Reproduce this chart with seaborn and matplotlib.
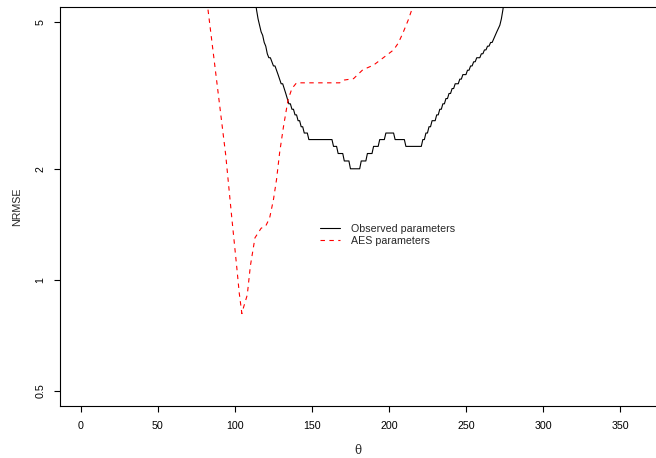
import numpy as np
import pandas as pd
import matplotlib
matplotlib.use('Agg')
import matplotlib.pyplot as plt
import seaborn as sns
from matplotlib.ticker import FixedLocator, NullLocator

# Observed parameters, one value per degree from 113 to 275
obs_theta = list(range(113, 276))
obs_nrmse = [5.8, 5.4, 5.1, 4.9, 4.7, 4.6, 4.4, 4.3, 4.1, 4.0,   # 113-122
             4.0, 3.9, 3.8, 3.8, 3.7, 3.6, 3.5, 3.4, 3.4, 3.3,   # 123-132
             3.2, 3.1, 3.0, 3.0, 2.9, 2.9, 2.8, 2.8, 2.7, 2.7,   # 133-142
             2.6, 2.6, 2.5, 2.5, 2.5, 2.4, 2.4, 2.4, 2.4, 2.4,   # 143-152
             2.4, 2.4, 2.4, 2.4, 2.4, 2.4, 2.4, 2.4, 2.4, 2.4,   # 153-162
             2.4, 2.3, 2.3, 2.3, 2.2, 2.2, 2.2, 2.2, 2.1, 2.1,   # 163-172
             2.1, 2.1, 2.0, 2.0, 2.0, 2.0, 2.0, 2.0, 2.0, 2.1,   # 173-182
             2.1, 2.1, 2.1, 2.2, 2.2, 2.2, 2.2, 2.3, 2.3, 2.3,   # 183-192
             2.3, 2.4, 2.4, 2.4, 2.4, 2.5, 2.5, 2.5, 2.5, 2.5,   # 193-202
             2.5, 2.4, 2.4, 2.4, 2.4, 2.4, 2.4, 2.4, 2.3, 2.3,   # 203-212
             2.3, 2.3, 2.3, 2.3, 2.3, 2.3, 2.3, 2.3, 2.3, 2.4,   # 213-222
             2.4, 2.5, 2.5, 2.6, 2.6, 2.7, 2.7, 2.7, 2.8, 2.8,   # 223-232
             2.9, 2.9, 3.0, 3.0, 3.1, 3.1, 3.2, 3.2, 3.3, 3.3,   # 233-242
             3.4, 3.4, 3.4, 3.5, 3.5, 3.6, 3.6, 3.6, 3.7, 3.7,   # 243-252
             3.8, 3.8, 3.9, 3.9, 4.0, 4.0, 4.0, 4.1, 4.1, 4.2,   # 253-262
             4.2, 4.3, 4.3, 4.4, 4.4, 4.5, 4.6, 4.7, 4.8, 4.9,   # 263-272
             5.1, 5.4, 5.8]                                      # 273-275

# AES parameters
aes_theta = [82.5, 94, 97.9, 101.1, 102.8, 104.5, 105.5, 108, 110, 113, 117, 120,
             122.5, 125, 127, 129, 131.5, 134.5, 137, 140, 168, 171, 177, 183, 190,
             196, 203, 206, 209, 212.5, 215.5]
aes_nrmse = [5.4, 2.18, 1.48, 1.09, 0.92, 0.81, 0.84, 0.91, 1.09, 1.30, 1.38, 1.40,
             1.47, 1.65, 1.87, 2.21, 2.60, 3.08, 3.30, 3.42, 3.42, 3.48, 3.51, 3.71,
             3.82, 3.99, 4.20, 4.38, 4.66, 5.06, 5.50]

x_ticks = [0, 50, 100, 150, 200, 250, 300, 350]
y_ticks = [0.5, 1, 2, 5]
y_tick_labels = ['0.5', '1', '2', '5']

obs = pd.DataFrame({'theta': obs_theta, 'NRMSE': obs_nrmse})
aes = pd.DataFrame({'theta': aes_theta, 'NRMSE': aes_nrmse})

sns.set_style('ticks')
plt.rcParams['font.family'] = ['Liberation Sans', 'DejaVu Sans']
plt.rcParams['font.size'] = 7.7

fig = plt.figure(figsize=(6.56, 4.58), dpi=100)
ax = fig.add_axes([60 / 656, 52 / 458, 596 / 656, 399 / 458])

sns.lineplot(data=obs, x='theta', y='NRMSE', ax=ax, color='black', linewidth=0.8,
             errorbar=None, label='Observed parameters')
sns.lineplot(data=aes, x='theta', y='NRMSE', ax=ax, color='red', linewidth=0.8,
             linestyle=(0, (4, 4)), errorbar=None, label='AES parameters')

ax.set_yscale('log')
ax.set_xlim(-13.6, 373.4)
ax.set_ylim(0.455, 5.49)
ax.xaxis.set_major_locator(FixedLocator(x_ticks))
ax.yaxis.set_major_locator(FixedLocator(y_ticks))
ax.yaxis.set_minor_locator(NullLocator())
ax.set_yticklabels(y_tick_labels, rotation=90, va='center')
ax.tick_params(axis='both', length=4.5, width=0.8, color='black',
               labelcolor='black', labelsize=7.7, pad=6)

for side in ['left', 'bottom', 'top']:
    ax.spines[side].set_color('black')
    ax.spines[side].set_linewidth(0.8)
ax.spines['right'].set_visible(False)

ax.set_xlabel('θ', family=['DejaVu Serif'], fontsize=8.5, labelpad=9.5)
ax.set_ylabel('NRMSE', fontsize=7.7, labelpad=9.5)

ax.legend(loc='upper left', bbox_to_anchor=(320 / 656, (458 - 224) / 458),
          bbox_transform=fig.transFigure, frameon=False, borderpad=0,
          borderaxespad=0, handlelength=1.9, handletextpad=1.0,
          labelspacing=0.15, fontsize=7.7)

fig.savefig('out.png', dpi=100)
